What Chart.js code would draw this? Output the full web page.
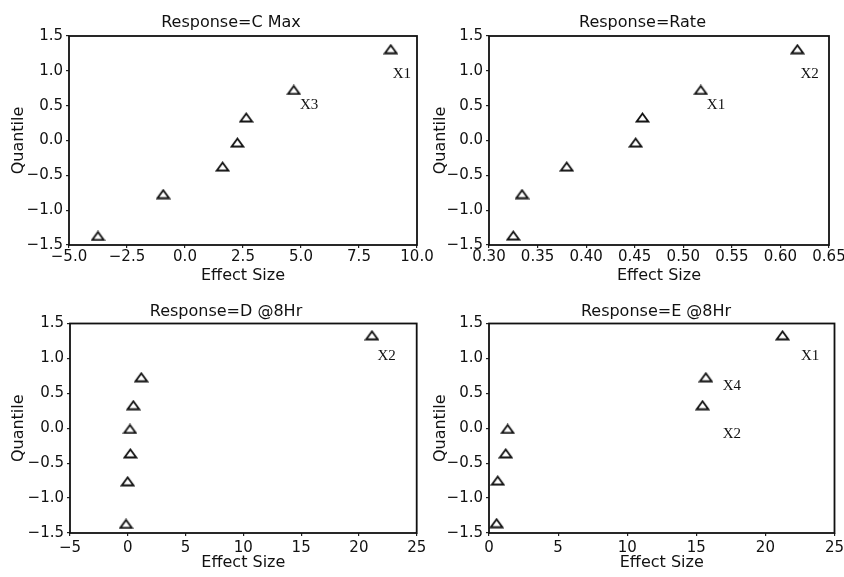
<!DOCTYPE html>
<html>
<head>
<meta charset="utf-8">
<script src="https://cdn.jsdelivr.net/npm/chart.js@4.4.1/dist/chart.umd.min.js"></script>
<style>
  html, body { margin: 0; padding: 0; background: #fff; overflow: hidden; width: 844px; height: 577px; }
  .panel { position: absolute; }
</style>
</head>
<body>
<div class="panel" style="left:0;top:0;width:440px;height:290px"><canvas id="cmax"></canvas></div>
<div class="panel" style="left:422px;top:0;width:448px;height:290px"><canvas id="rate"></canvas></div>
<div class="panel" style="left:0;top:290px;width:440px;height:287px"><canvas id="d8"></canvas></div>
<div class="panel" style="left:422px;top:290px;width:448px;height:287px"><canvas id="e8"></canvas></div>
<script>
// data
const quantileTicks = [-1.5, -1.0, -0.5, 0.0, 0.5, 1.0, 1.5];

const cmaxX = [-3.75, -0.94, 1.62, 2.26, 2.64, 4.69, 8.87];
const cmaxQ = [-1.37, -0.77, -0.375, -0.03, 0.33, 0.725, 1.31];
const cmaxTicks = [-5, -2.5, 0, 2.5, 5, 7.5, 10];
const cmaxNames = ['X1', 'X3'];
const cmaxNameX = [9.35, 5.35];
const cmaxNameQ = [0.95, 0.505];

const rateX = [0.325, 0.334, 0.380, 0.451, 0.458, 0.518, 0.6175];
const rateQ = [-1.365, -0.77, -0.375, -0.03, 0.33, 0.725, 1.31];
const rateTicks = [0.30, 0.35, 0.40, 0.45, 0.50, 0.55, 0.60, 0.65];
const rateNames = ['X1', 'X2'];
const rateNameX = [0.5337, 0.630];
const rateNameQ = [0.505, 0.95];

const d8X = [-0.15, -0.01, 0.22, 0.19, 0.48, 1.17, 21.13];
const d8Q = [-1.37, -0.76, -0.36, -0.01, 0.33, 0.73, 1.33];
const d8Ticks = [-5, 0, 5, 10, 15, 20, 25];
const d8Names = ['X2'];
const d8NameX = [22.4];
const d8NameQ = [1.04];

const e8X = [0.55, 0.63, 1.21, 1.35, 15.45, 15.69, 21.24];
const e8Q = [-1.36, -0.75, -0.36, -0.01, 0.33, 0.73, 1.33];
const e8Ticks = [0, 5, 10, 15, 20, 25];
const e8Names = ['X1', 'X4', 'X2'];
const e8NameX = [23.24, 17.57, 17.57];
const e8NameQ = [1.04, 0.6, -0.08];

const ink = '#111';
const sans = 'DejaVu Sans';

// open triangle marker, a bit flatter than chart.js' own
function triangleMarker() {
  const c = document.createElement('canvas');
  c.width = 15; c.height = 11;
  const g = c.getContext('2d');
  g.strokeStyle = '#111';
  g.lineWidth = 1.8;
  g.beginPath();
  g.moveTo(7.5, 1.5);
  g.lineTo(13.3, 9.5);
  g.lineTo(1.7, 9.5);
  g.closePath();
  g.stroke();
  return c;
}
const marker = triangleMarker();

const fmt = (v, d) => (v < -1e-9 ? '\u2212' : '') + Math.abs(v).toFixed(d);

// box round the plot area + panel title + point labels
const panelFrame = {
  id: 'panelFrame',
  afterDraw(chart, args, options) {
    const {ctx, chartArea: {left, top, width, height}, scales: {x, y}} = chart;
    ctx.save();
    ctx.strokeStyle = ink;
    ctx.lineWidth = 1.8;
    ctx.strokeRect(left, top, width, height);
    ctx.fillStyle = ink;
    ctx.textAlign = 'center';
    ctx.textBaseline = 'middle';
    ctx.font = '16px "' + sans + '"';
    ctx.fillText(options.title, options.titleX, options.titleY);
    ctx.font = '15px "Liberation Serif"';
    options.names.forEach((n, i) => {
      ctx.fillText(n, x.getPixelForValue(options.nameX[i]), y.getPixelForValue(options.nameY[i]));
    });
    ctx.restore();
  }
};

function makePanel(id, p) {
  return new Chart(document.getElementById(id), {
    type: 'scatter',
    data: {
      datasets: [{
        data: p.xs.map((v, i) => ({x: v, y: p.qs[i]})),
        pointStyle: marker,
        pointRadius: 5,
        showLine: false,
      }]
    },
    plugins: [panelFrame],
    options: {
      responsive: true,
      maintainAspectRatio: false,
      animation: false,
      events: [],
      layout: {
        padding: {top: p.padTop, right: p.padRight, left: 0, bottom: 0}
      },
      scales: {
        x: {
          type: 'linear',
          min: p.xTicks[0],
          max: p.xTicks[p.xTicks.length - 1],
          afterBuildTicks: scale => { scale.ticks = p.xTicks.map(v => ({value: v})); },
          afterFit: scale => { scale.height = p.xHeight; },
          border: {display: false},
          grid: {drawOnChartArea: false, tickLength: 3, color: '#222', lineWidth: 1.2},
          ticks: {
            padding: p.xPad,
            color: ink,
            maxRotation: 0,
            autoSkip: false,
            font: {family: sans, size: 15},
            callback: v => fmt(v, p.xDec)
          },
          title: {
            display: true,
            text: 'Effect Size',
            color: ink,
            font: {family: sans, size: 16},
            padding: {top: 0, bottom: 4.4}
          }
        },
        y: {
          type: 'linear',
          min: -1.5,
          max: 1.5,
          afterBuildTicks: scale => { scale.ticks = quantileTicks.map(v => ({value: v})); },
          afterFit: scale => { scale.width = p.yWidth; },
          border: {display: false},
          grid: {drawOnChartArea: false, tickLength: 3, color: '#222', lineWidth: 1.2},
          ticks: {
            padding: 3,
            color: ink,
            autoSkip: false,
            font: {family: sans, size: 15},
            callback: v => fmt(v, 1)
          },
          title: {
            display: true,
            text: 'Quantile',
            color: ink,
            font: {family: sans, size: 16},
            padding: {top: 9, bottom: 0}
          }
        }
      },
      plugins: {
        legend: {display: false},
        tooltip: {enabled: false},
        panelFrame: {
          title: p.title,
          titleX: p.titleX,
          titleY: p.titleY,
          names: p.names,
          nameX: p.nameX,
          nameY: p.nameQ
        }
      }
    }
  });
}

makePanel('cmax', {
  xs: cmaxX, qs: cmaxQ, xTicks: cmaxTicks, xDec: 1,
  names: cmaxNames, nameX: cmaxNameX, nameQ: cmaxNameQ,
  title: 'Response=C Max', titleX: 231, titleY: 22.5,
  padTop: 36, padRight: 23, yWidth: 69, xHeight: 45, xPad: 0
});
makePanel('rate', {
  xs: rateX, qs: rateQ, xTicks: rateTicks, xDec: 2,
  names: rateNames, nameX: rateNameX, nameQ: rateNameQ,
  title: 'Response=Rate', titleX: 220.5, titleY: 22.5,
  padTop: 36, padRight: 41, yWidth: 67, xHeight: 45, xPad: 0
});
makePanel('d8', {
  xs: d8X, qs: d8Q, xTicks: d8Ticks, xDec: 0,
  names: d8Names, nameX: d8NameX, nameQ: d8NameQ,
  title: 'Response=D @8Hr', titleX: 226, titleY: 22.3,
  padTop: 33.5, padRight: 23.3, yWidth: 70, xHeight: 44, xPad: 3
});
makePanel('e8', {
  xs: e8X, qs: e8Q, xTicks: e8Ticks, xDec: 0,
  names: e8Names, nameX: e8NameX, nameQ: e8NameQ,
  title: 'Response=E @8Hr', titleX: 234, titleY: 22.3,
  padTop: 33.5, padRight: 35.5, yWidth: 67, xHeight: 44, xPad: 3
});
</script>
</body>
</html>
